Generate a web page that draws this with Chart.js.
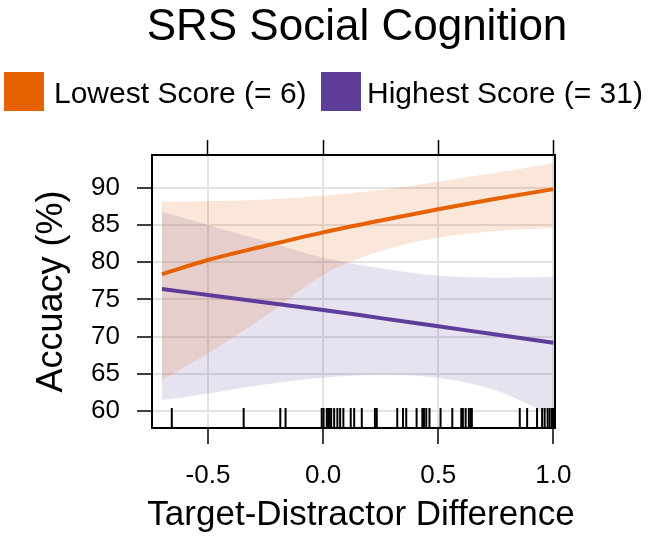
<!DOCTYPE html>
<html>
<head>
<meta charset="utf-8">
<script src="https://cdn.jsdelivr.net/npm/chart.js@4"></script>
<style>
  html, body { margin: 0; padding: 0; background: #fff; }
  #wrap { width: 650px; height: 538px; }
</style>
</head>
<body>
<div id="wrap"><canvas id="chart" width="650" height="538"></canvas></div>
<script>
// values
const xGrid = [-0.7, -0.5, -0.25, 0, 0.25, 0.5, 0.75, 1.0];
const lowFit = [78.4, 80.3, 82.2, 84.0, 85.6, 87.1, 88.5, 89.8];
const lowUpper = [88.1, 88.2, 88.4, 88.9, 89.7, 90.8, 92.0, 93.3];
const lowLower = [64.2, 67.8, 72.8, 78.3, 81.5, 83.3, 84.2, 84.6];
const highFit = [76.4, 75.6, 74.6, 73.6, 72.5, 71.4, 70.3, 69.2];
const highUpper = [86.8, 85.0, 82.8, 80.6, 79.2, 78.2, 77.9, 78.0];
const highLower = [61.5, 62.4, 63.6, 64.5, 64.9, 64.5, 62.8, 59.4];
const rugX = [-0.657, -0.345, -0.186, -0.163, -0.006, 0.002, 0.016, 0.022, 0.028,
    0.035, 0.048, 0.062, 0.074, 0.088, 0.120, 0.135, 0.168, 0.225, 0.233, 0.322,
    0.347, 0.361, 0.406, 0.431, 0.438, 0.448, 0.462, 0.510, 0.561, 0.600, 0.607,
    0.619, 0.633, 0.640, 0.646, 0.854, 0.886, 0.929, 0.951, 0.962, 0.975, 0.984,
    0.994, 1.0];
const xTicks = [-0.5, 0, 0.5, 1.0];
const yTicks = [60, 65, 70, 75, 80, 85, 90];
const seriesNames = ["Lowest Score (= 6)", "Highest Score (= 31)"];
const xTitle = "Target-Distractor Difference";

const orange = "#e66101";
const purple = "#5e3c99";

function pts(ys) {
    return xGrid.map((x, i) => ({ x: x, y: ys[i] }));
}

Chart.defaults.font.family = "'Liberation Sans', Arial, sans-serif";
Chart.defaults.color = "#000";

// title, legend and x title drawn straight on the canvas
// (the x title is wider than the plot, so the scale title would squeeze it)
const headerPlugin = {
    id: "header",
    afterDraw(chart) {
        const ctx = chart.ctx;
        ctx.save();
        ctx.fillStyle = "#000";
        ctx.textBaseline = "alphabetic";
        ctx.textAlign = "center";
        ctx.font = "44px 'Liberation Sans', Arial, sans-serif";
        ctx.fillText("SRS Social Cognition", 357, 40);

        ctx.font = "35px 'Liberation Sans', Arial, sans-serif";
        ctx.fillText(xTitle, 361, 525);

        ctx.textAlign = "left";
        ctx.font = "30px 'Liberation Sans', Arial, sans-serif";
        const items = [
            { color: orange, box: 4, text: 54 },
            { color: purple, box: 321, text: 367 }
        ];
        items.forEach((it, i) => {
            ctx.fillStyle = it.color;
            ctx.fillRect(it.box, 72, 40, 39);
            ctx.fillStyle = "#000";
            ctx.fillText(seriesNames[i], it.text, 103);
        });
        ctx.restore();
    }
};

const band = (data, color, fill) => ({
    data: data,
    borderWidth: 0,
    pointRadius: 0,
    backgroundColor: color,
    fill: fill,
    cubicInterpolationMode: "monotone",
    order: 3
});

const datasets = [
    band(pts(lowUpper), "rgba(230,97,1,0.15)", "+1"),
    band(pts(lowLower), "rgba(230,97,1,0.15)", false),
    band(pts(highUpper), "rgba(94,60,153,0.15)", "+1"),
    band(pts(highLower), "rgba(94,60,153,0.15)", false),
    {
        label: seriesNames[0],
        data: pts(lowFit),
        borderColor: orange,
        borderWidth: 4,
        pointRadius: 0,
        fill: false,
        cubicInterpolationMode: "monotone",
        order: 0
    },
    {
        label: seriesNames[1],
        data: pts(highFit),
        borderColor: purple,
        borderWidth: 4,
        pointRadius: 0,
        fill: false,
        cubicInterpolationMode: "monotone",
        order: 0
    },
    {
        type: "scatter",
        data: rugX.map(x => ({ x: x, y: 59.1 })),
        pointStyle: "line",
        rotation: 90,
        pointRadius: 10,
        borderColor: "#000",
        borderWidth: 2,
        order: 1
    }
];

const gridColor = "#e3e3e3";

new Chart(document.getElementById("chart"), {
    type: "line",
    data: { datasets: datasets },
    options: {
        responsive: false,
        animation: false,
        events: [],
        layout: { padding: { top: 140, left: 0, right: 0, bottom: 0 } },
        plugins: {
            legend: { display: false },
            title: { display: false },
            tooltip: { enabled: false }
        },
        scales: {
            x: {
                type: "linear",
                position: "bottom",
                min: -0.743,
                max: 1.007,
                afterBuildTicks: s => { s.ticks = xTicks.map(v => ({ value: v })); },
                afterFit: s => { s.height = 110; },
                ticks: {
                    font: { size: 26 },
                    padding: 16,
                    maxRotation: 0,
                    callback: v => v.toFixed(1)
                },
                grid: { color: gridColor, lineWidth: 2, tickColor: "#000", tickWidth: 1.5, tickLength: 16 },
                border: { color: "#000", width: 2 }
            },
            xTop: {
                type: "linear",
                position: "top",
                min: -0.743,
                max: 1.007,
                afterBuildTicks: s => { s.ticks = xTicks.map(v => ({ value: v })); },
                afterFit: s => { s.height = 15; },
                ticks: { display: false },
                grid: { drawOnChartArea: false, tickColor: "#000", tickWidth: 1.5, tickLength: 15 },
                border: { color: "#000", width: 2 }
            },
            y: {
                type: "linear",
                position: "left",
                min: 57.76,
                max: 94.38,
                afterBuildTicks: s => { s.ticks = yTicks.map(v => ({ value: v })); },
                afterFit: s => { s.width = 152; },
                ticks: { font: { size: 26 }, padding: 17 },
                grid: { color: gridColor, lineWidth: 2, tickColor: "#000", tickWidth: 1.5, tickLength: 15 },
                border: { color: "#000", width: 2 },
                title: { display: true, text: "Accuacy (%)", font: { size: 36 }, padding: { top: 30 } }
            },
            yRight: {
                type: "linear",
                position: "right",
                min: 57.76,
                max: 94.38,
                afterFit: s => { s.width = 95; },
                ticks: { display: false },
                grid: { drawOnChartArea: false, drawTicks: false },
                border: { color: "#000", width: 2 }
            }
        }
    },
    plugins: [headerPlugin]
});
</script>
</body>
</html>
